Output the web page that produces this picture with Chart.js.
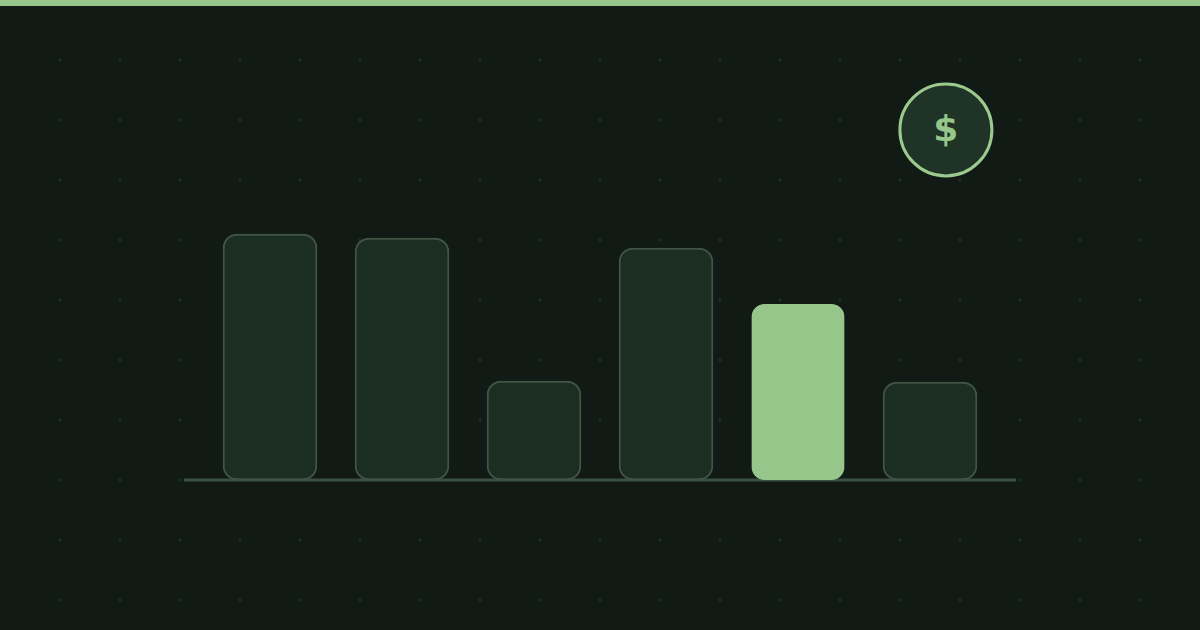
<!DOCTYPE html>
<html>
<head>
<meta charset="utf-8">
<script src="https://cdn.jsdelivr.net/npm/chart.js@4"></script>
<style>
  html, body { margin: 0; padding: 0; width: 1200px; height: 630px; overflow: hidden; }
  body { background-color: #111a15; position: relative; }
  #dots {
    position: absolute; left: 30px; top: 30px; width: 1140px; height: 600px;
    background-image: radial-gradient(circle at center, #212f27 0, #212f27 1px, transparent 2px);
    background-size: 60px 60px;
  }
  #band { position: absolute; left: 0; top: 0; width: 1200px; height: 6px; background: #97c68a; }
  #wrap { position: absolute; left: 0; top: 0; width: 1200px; height: 630px; }
  #coin {
    position: absolute; left: 0; top: 0; width: 95px; height: 95px;
    transform: translate(898.4px, 82.4px);
    box-sizing: border-box; border: 3px solid #9cc98e; border-radius: 50%;
    background: #1f3327; color: #97c68a;
    font: bold 36px/87px "DejaVu Sans", sans-serif; text-align: center;
  }
</style>
</head>
<body>
<div id="dots"></div>
<div id="wrap"><canvas id="chart" width="1200" height="630"></canvas></div>
<div id="band"></div>
<div id="coin">$</div>
<script>
// no labels in the picture, heights read off in px above the baseline
const categories = ['1', '2', '3', '4', '5', '6'];
const barValues = [246, 242, 99, 232, 176, 98];
const highlightIndex = 4;

const barFill = '#1c2d22';
const barEdge = '#3f5446';
const accent = '#97c68a';

// baseline runs a bit past the bars on both sides, bars sit on top of it
const baseline = {
  id: 'baseline',
  beforeDatasetsDraw(chart) {
    const { ctx, chartArea, scales } = chart;
    const y = scales.y.getPixelForValue(0);
    ctx.save();
    ctx.strokeStyle = '#3a5042';
    ctx.lineWidth = 3;
    ctx.beginPath();
    ctx.moveTo(chartArea.left - 20, y);
    ctx.lineTo(chartArea.right + 20, y);
    ctx.stroke();
    ctx.restore();
  }
};

// highlighted bar is a little narrower than the others, no visible edge
new Chart(document.getElementById('chart').getContext('2d'), {
  type: 'bar',
  data: {
    labels: categories,
    datasets: [{
      data: barValues,
      backgroundColor: barValues.map((v, i) => i === highlightIndex ? accent : barFill),
      borderColor: barValues.map((v, i) => i === highlightIndex ? 'transparent' : barEdge),
      borderWidth: barValues.map((v, i) => i === highlightIndex ? { top: 0, bottom: 0, left: 1, right: 1 } : 2),
      borderSkipped: false,
      borderRadius: 14,
      barThickness: 94
    }]
  },
  options: {
    responsive: false,
    animation: false,
    devicePixelRatio: 1,
    layout: { padding: { left: 204, right: 204, top: 0, bottom: 150 } },
    plugins: { legend: { display: false }, tooltip: { enabled: false } },
    scales: {
      x: { display: false },
      y: { display: false, min: 0, max: 480 }
    }
  },
  plugins: [baseline]
});
</script>
</body>
</html>
